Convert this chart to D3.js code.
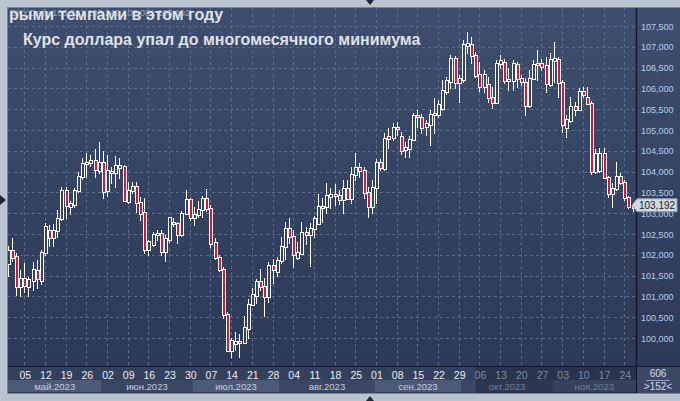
<!DOCTYPE html>
<html>
<head>
<meta charset="utf-8">
<script src="https://cdn.jsdelivr.net/npm/d3@7"></script>
<style>
body { margin: 0; background: #bac4d0; }
svg { display: block; font-family: "Liberation Sans", Arial, sans-serif; }
</style>
</head>
<body>
<svg id="chart" width="680" height="401"></svg>
<script>
// DXY daily candles, 01.05.2023 - 28.11.2023
let open = [101.80, 102.12, 101.97, 101.25, 101.44, 101.25, 101.40, 101.63, 101.40, 102.07, 102.60, 102.42, 102.60, 102.88, 103.56, 103.17, 103.22, 103.55, 103.90, 104.20, 104.23, 104.28, 104.05,
	104.23, 103.55, 104.00, 103.98, 104.12, 104.13, 103.30, 103.55, 103.65, 103.27, 103.03, 102.15, 102.26, 102.50, 102.52, 102.09, 102.38, 102.80, 102.76, 102.50, 103.00, 103.34,
	102.90, 102.98, 103.10, 103.37, 103.12, 102.30, 101.95, 101.66, 100.58, 99.72, 99.88, 99.92, 99.90, 100.24, 100.82, 101.03, 101.37, 101.25, 101.00, 101.75, 101.60,
	101.87, 102.20, 102.64, 102.45, 101.95, 102.05, 102.55, 102.50, 102.64, 102.76, 103.14, 103.18, 103.42, 103.43, 103.43, 103.35, 103.60, 103.36, 103.95, 104.12, 104.05, 103.50, 103.17,
	103.62, 104.24, 104.08, 104.80, 104.83, 105.08, 104.86, 104.55, 104.56, 104.78, 105.35, 105.31, 105.10, 105.15, 105.38, 105.38, 105.53, 105.94, 106.18, 106.73, 106.15,
	106.23, 107.05, 107.07, 106.80, 106.35, 106.06, 106.10, 105.79, 105.67, 106.60, 106.63, 106.20, 106.20, 106.58, 106.25, 106.15, 105.60, 106.26, 106.60, 106.60, 106.56, 106.10,
	106.72, 106.70, 106.15, 105.07, 105.24, 105.58, 105.50, 105.93, 105.80, 105.66, 104.02, 104.05, 104.45, 103.87, 103.49, 103.60, 103.90, 103.75, 103.39, 103.16]
let high = [102.20, 102.40, 102.05, 101.63, 101.80, 101.47, 101.83, 101.87, 102.12, 102.76, 102.72, 102.75, 103.07, 103.63, 103.63, 103.30, 103.60, 103.98, 104.33, 104.45, 104.40, 104.55, 104.70,
	104.50, 104.40, 104.10, 104.37, 104.33, 104.15, 103.75, 103.75, 103.75, 103.38, 103.37, 102.36, 102.55, 102.60, 102.60, 102.48, 102.92, 102.88, 102.80, 103.05, 103.55, 103.37,
	103.15, 103.30, 103.42, 103.58, 103.20, 102.40, 102.00, 101.70, 100.62, 100.00, 100.15, 100.10, 100.53, 100.94, 101.20, 101.42, 101.66, 101.44, 101.83, 101.90, 101.95,
	102.43, 102.79, 102.88, 102.60, 102.30, 102.80, 102.67, 102.76, 102.93, 103.46, 103.36, 103.72, 103.60, 103.70, 103.56, 103.80, 103.80, 104.10, 104.44, 104.20, 104.10, 103.63, 103.80,
	104.30, 104.30, 104.93, 105.05, 105.17, 105.20, 104.95, 104.70, 104.85, 105.41, 105.48, 105.38, 105.25, 105.48, 105.77, 105.72, 106.20, 106.27, 106.80, 106.78, 106.32,
	107.17, 107.35, 107.23, 106.88, 106.63, 106.44, 106.27, 106.03, 106.68, 106.80, 106.70, 106.50, 106.68, 106.63, 106.32, 106.25, 106.44, 106.68, 106.93, 106.70, 106.75, 106.85,
	107.11, 106.75, 106.20, 105.36, 105.80, 105.67, 106.00, 106.03, 106.03, 105.70, 104.55, 104.57, 104.57, 103.90, 103.72, 104.23, 103.97, 103.80, 103.42, 103.24]
let low = [101.50, 101.85, 101.03, 101.00, 101.10, 101.00, 101.15, 101.20, 101.30, 102.00, 102.20, 102.20, 102.43, 102.84, 102.88, 102.97, 103.15, 103.50, 103.82, 103.87, 104.14, 103.87, 103.97,
	103.37, 103.42, 103.73, 103.63, 103.85, 103.30, 103.25, 103.48, 103.03, 102.84, 102.05, 102.00, 102.21, 102.35, 102.00, 101.85, 102.30, 102.70, 102.28, 102.45, 102.97, 102.83,
	102.72, 102.90, 102.92, 103.05, 102.19, 101.90, 101.60, 100.48, 99.69, 99.55, 99.72, 99.55, 99.88, 100.00, 100.80, 100.84, 101.15, 100.53, 100.87, 101.32, 101.50,
	101.80, 101.90, 102.28, 101.70, 101.90, 102.02, 102.26, 101.73, 102.42, 102.74, 102.80, 103.00, 103.12, 103.20, 103.22, 103.00, 103.33, 103.25, 103.80, 103.88, 103.37, 102.90, 103.00,
	103.25, 104.05, 104.04, 104.57, 104.77, 104.88, 104.43, 104.35, 104.35, 104.77, 105.07, 104.93, 104.88, 104.64, 104.93, 105.31, 105.48, 105.87, 106.00, 106.00, 105.67,
	106.15, 106.85, 106.60, 106.27, 105.93, 105.92, 105.67, 105.53, 105.67, 106.50, 106.13, 105.97, 105.97, 106.03, 106.08, 105.36, 105.55, 106.25, 106.20, 106.45, 105.92, 106.05,
	106.15, 105.80, 104.96, 104.83, 105.20, 105.36, 105.48, 105.80, 105.63, 103.95, 103.97, 104.00, 103.85, 103.39, 103.15, 103.55, 103.70, 103.32, 103.12, 103.06]
let close = [102.12, 101.95, 101.25, 101.44, 101.27, 101.42, 101.66, 101.44, 102.07, 102.69, 102.43, 102.60, 102.88, 103.56, 103.20, 103.24, 103.55, 103.90, 104.20, 104.22, 104.27, 104.06, 104.23,
	103.53, 104.04, 104.02, 104.15, 104.15, 103.32, 103.55, 103.65, 103.27, 103.00, 102.15, 102.33, 102.50, 102.53, 102.09, 102.40, 102.90, 102.76, 102.50, 103.00, 103.34, 102.90,
	102.98, 103.10, 103.37, 103.12, 102.28, 101.95, 101.66, 100.58, 99.72, 99.96, 99.92, 99.90, 100.27, 100.82, 101.06, 101.37, 101.25, 101.00, 101.75, 101.66, 101.87,
	102.20, 102.64, 102.45, 102.02, 102.07, 102.55, 102.50, 102.64, 102.88, 103.17, 103.18, 103.44, 103.45, 103.47, 103.35, 103.60, 103.36, 103.95, 104.10, 104.05, 103.50, 103.18, 103.62,
	104.24, 104.10, 104.81, 104.85, 105.07, 105.06, 104.52, 104.60, 104.78, 105.36, 105.33, 105.07, 105.17, 105.38, 105.42, 105.62, 105.96, 106.20, 106.73, 106.15, 106.25,
	107.07, 107.08, 106.80, 106.33, 106.05, 106.35, 105.79, 105.67, 106.60, 106.68, 106.20, 106.22, 106.60, 106.25, 106.17, 105.60, 106.25, 106.58, 106.58, 106.55, 106.12, 106.70,
	106.68, 106.15, 105.14, 105.26, 105.58, 105.50, 105.93, 105.86, 105.66, 104.02, 104.45, 104.45, 103.87, 103.49, 103.60, 103.90, 103.75, 103.39, 103.17, 103.192]

let lastPrice = 103.192
let dayLabels = ["05", "12", "19", "26", "02", "09", "16", "23", "30", "07", "14", "21", "28", "04", "11", "18", "25",
	"01", "08", "15", "22", "29", "06", "13", "20", "27", "03", "10", "17", "24"]
let monthLabels = ["май.2023", "июн.2023", "июл.2023", "авг.2023", "сен.2023", "окт.2023", "ноя.2023"]
let priceTicks = d3.range(100, 107.51, 0.5)

// trading days (weekdays) for the category axis
let days = d3.timeDay.range(new Date(2023, 4, 1), new Date(2023, 10, 29)).filter(d => d.getDay() > 0 && d.getDay() < 6)
let fridays = days.map((d, i) => i).filter(i => days[i].getDay() == 5)

let svg = d3.select('#chart')
let pLeft = 8, pRight = 636, pTop = 8, pBottom = 366

let x = d3.scaleLinear().domain([0, days.length - 1]).range([8.7, 633.5])
let y = d3.scaleLinear().domain([100, 107.5]).range([338, 26])
let fmt = v => d3.format(',.3f')(v).replace('.', ',')

let defs = svg.append('defs')
let grad = defs.append('linearGradient').attr('id', 'bg').attr('x1', 0).attr('y1', 0).attr('x2', 0).attr('y2', 1)
grad.append('stop').attr('offset', 0).attr('stop-color', '#3f4e6e')
grad.append('stop').attr('offset', 1).attr('stop-color', '#2c3957')
defs.append('clipPath').attr('id', 'plot').append('rect').attr('x', pLeft).attr('y', pTop).attr('width', pRight - pLeft).attr('height', pBottom - pTop)

// panel
svg.append('rect').attr('x', pLeft).attr('y', pTop).attr('width', 680 - pLeft).attr('height', pBottom - pTop).attr('fill', 'url(#bg)')
svg.append('rect').attr('x', pLeft).attr('y', pBottom).attr('width', 680 - pLeft).attr('height', 27).attr('fill', '#34415d')

// grid
let grid = svg.append('g').attr('stroke', '#5a6a8c').attr('stroke-dasharray', '3,3').attr('stroke-width', 1)
grid.selectAll('line.h').data(priceTicks).enter().append('line').attr('class', 'h')
	.attr('x1', pLeft).attr('x2', pRight)
	.attr('y1', d => Math.round(y(d)) + 0.5).attr('y2', d => Math.round(y(d)) + 0.5)
grid.selectAll('line.v').data(fridays).enter().append('line').attr('class', 'v')
	.attr('y1', pTop).attr('y2', pBottom)
	.attr('x1', d => Math.round(x(d)) - 0.5).attr('x2', d => Math.round(x(d)) - 0.5)

// titles
svg.append('text').attr('x', 10).attr('y', 16).attr('fill', '#9aa5b6').style('font-size', '9px')
	.text('DXY,Daily  103,221  103,249  103,081  103,192')
svg.append('text').attr('x', 9).attr('y', 20).attr('fill', '#dde1e8').style('font-size', '16px').style('font-weight', 'bold')
	.text('рыми темпами в этом году')
svg.append('text').attr('x', 23).attr('y', 45).attr('fill', '#dde1e8').style('font-size', '16px').style('font-weight', 'bold')
	.text('Курс доллара упал до многомесячного минимума')

// candles: 4px white outline, 2px fill (red when falling)
let top_ = i => Math.round(y(Math.max(open[i], close[i])))
let bot_ = i => Math.round(y(Math.min(open[i], close[i])))
let candles = svg.append('g').attr('clip-path', 'url(#plot)')
	.selectAll('g').data(days.map((d, i) => i)).enter().append('g')
candles.append('line')
	.attr('stroke', '#fff')
	.attr('x1', i => Math.round(x(i)) - 0.5).attr('x2', i => Math.round(x(i)) - 0.5)
	.attr('y1', i => Math.round(y(high[i]))).attr('y2', i => Math.round(y(low[i])) + 1)
candles.append('rect')
	.attr('fill', '#fff')
	.attr('x', i => Math.round(x(i)) - 2).attr('width', 4)
	.attr('y', top_).attr('height', i => bot_(i) - top_(i) + 2)
candles.append('rect')
	.attr('fill', i => close[i] < open[i] ? '#dc1438' : '#35435f')
	.attr('x', i => Math.round(x(i)) - 1).attr('width', 2)
	.attr('y', i => top_(i) + 1).attr('height', i => Math.max(0, bot_(i) - top_(i)))

// right axis
svg.append('line').attr('x1', pRight + 0.5).attr('x2', pRight + 0.5).attr('y1', pTop).attr('y2', 393).attr('stroke', '#111a2b').attr('stroke-width', 1.5)
svg.append('g').selectAll('text').data(priceTicks).enter().append('text')
	.attr('x', 641).attr('y', d => y(d) + 3.5)
	.attr('fill', '#b3cdee').style('font-size', '9px')
	.text(fmt)

// price marker
let py = y(lastPrice)
svg.append('path')
	.attr('d', `M632,${py} L637,${py - 6.5} L677,${py - 6.5} L677,${py + 6.5} L637,${py + 6.5} Z`)
	.attr('fill', '#d3d8de').attr('stroke', '#8e98a6')
svg.append('text').attr('x', 657).attr('y', py + 3.5).attr('text-anchor', 'middle')
	.attr('fill', '#1b2232').style('font-size', '10px').text(fmt(lastPrice))

// bottom axis
svg.append('line').attr('x1', pLeft).attr('x2', 680).attr('y1', pBottom + 0.5).attr('y2', pBottom + 0.5).attr('stroke', '#141d2e')
let months = d3.groups(days.map((d, i) => i), i => days[i].getMonth())
let bandStart = (m, k) => k == 0 ? pLeft : Math.round(x(m[1][0])) - 2.5
let bandEnd = (m, k) => k == months.length - 1 ? pRight : bandStart(months[k + 1], k + 1)
svg.append('g').selectAll('rect').data(months).enter().append('rect')
	.attr('x', bandStart)
	.attr('width', (m, k) => bandEnd(m, k) - bandStart(m, k))
	.attr('y', 380).attr('height', 12)
	.attr('fill', (m, k) => k % 2 == 0 ? '#4b5a76' : '#3a4764')
let dimX = 476.5
svg.append('rect').attr('x', dimX).attr('y', pBottom + 1).attr('width', pRight - dimX).attr('height', 26)
	.attr('fill', '#1c2538').attr('fill-opacity', 0.45)
svg.append('line').attr('x1', dimX).attr('x2', dimX).attr('y1', pBottom + 1).attr('y2', 393).attr('stroke', '#283246')

svg.append('g').selectAll('text').data(fridays).enter().append('text')
	.attr('x', i => x(i)).attr('y', 378.5).attr('text-anchor', 'middle')
	.attr('fill', i => x(i) > dimX ? '#7d8aa1' : '#e6ebf2').style('font-size', '10.5px')
	.text((i, k) => dayLabels[k])
svg.append('g').selectAll('text').data(months).enter().append('text')
	.attr('x', (m, k) => (bandStart(m, k) + bandEnd(m, k)) / 2)
	.attr('y', 390).attr('text-anchor', 'middle')
	.attr('fill', (m, k) => bandStart(m, k) > dimX - 20 ? '#6f7d96' : '#c3cfdf').style('font-size', '9.5px')
	.text((m, k) => monthLabels[k])

// corner box
svg.append('rect').attr('x', pRight + 1).attr('y', pBottom + 1).attr('width', 680 - pRight - 1).attr('height', 26).attr('fill', '#3a4866')
svg.append('text').attr('x', 658).attr('y', 377).attr('text-anchor', 'middle').attr('fill', '#d4dbe6').style('font-size', '10px').text('606')
svg.append('line').attr('x1', 646).attr('x2', 670).attr('y1', 380.5).attr('y2', 380.5).attr('stroke', '#8f9bb0')
svg.append('text').attr('x', 658).attr('y', 390).attr('text-anchor', 'middle').attr('fill', '#d4dbe6').style('font-size', '10px').text('>' + days.length + '<')

// frame and markers
svg.append('rect').attr('x', pLeft - 0.5).attr('y', pTop - 0.5).attr('width', 680 - pLeft + 1).attr('height', 393 - pTop + 1)
	.attr('fill', 'none').attr('stroke', '#7b8799')
svg.append('path').attr('d', 'M0,195 L6,200 L0,205 Z').attr('fill', '#1e2736')
svg.append('path').attr('d', 'M366,0 L374,0 L370,5 Z').attr('fill', '#1e2736')
svg.append('path').attr('d', 'M366,401 L374,401 L370,396 Z').attr('fill', '#1e2736')
</script>
</body>
</html>
